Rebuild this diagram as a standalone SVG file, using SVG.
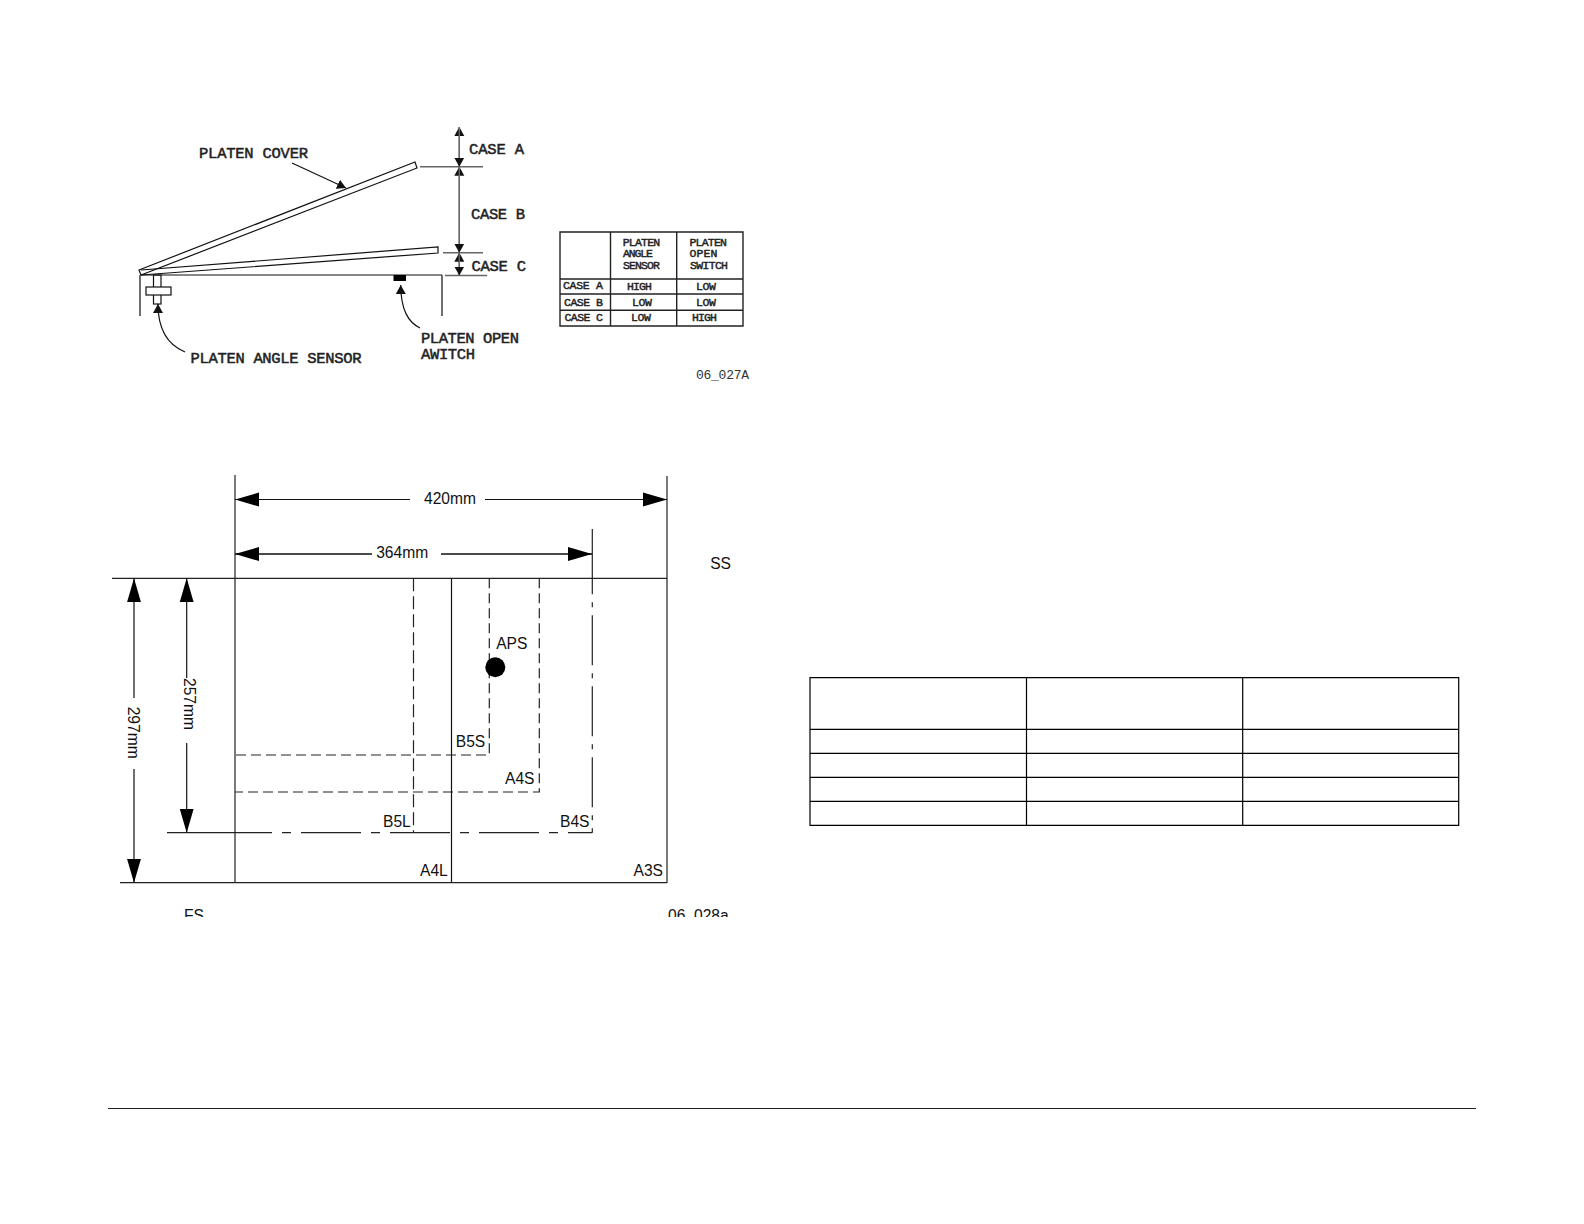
<svg xmlns="http://www.w3.org/2000/svg" width="1584" height="1224" viewBox="0 0 1584 1224">
<style>
.l{fill:none;stroke:#222;stroke-width:1.2}
.g{fill:none;stroke:#666;stroke-width:1.4}
.k{fill:none;stroke:#111;stroke-width:1.2}
.c{font-family:"Liberation Mono",monospace;font-size:15.5px;fill:#222;stroke:#222;stroke-width:.5}
.s{font-family:"Liberation Mono",monospace;font-size:11.5px;fill:#222;stroke:#222;stroke-width:.45}
.t{font-family:"Liberation Sans",Arial,sans-serif;font-size:15.6px;fill:#111}
.m{font-family:"Liberation Mono",monospace;font-size:13px;fill:#333}
</style>
<defs>
<marker id="a" markerUnits="userSpaceOnUse" markerWidth="10" markerHeight="11" refX="9" refY="5.500" orient="auto-start-reverse"><path d="M0 0.500L9 5.500L0 10.500Z" fill="#111"/></marker>
<marker id="b" markerUnits="userSpaceOnUse" markerWidth="24" markerHeight="16" refX="24" refY="8" orient="auto-start-reverse"><path d="M0 1L24 8L0 15Z" fill="#000"/></marker>
<clipPath id="cut"><rect x="0" y="0" width="1584" height="917"/></clipPath>
</defs>

<g id="platen-assembly">
<path class="k" d="M139 270L415 162L417 168L141 275Z"/>
<path class="k" d="M141 270L438 247L438 253L141 275"/>
<path class="k" d="M141 275H442M140 275V316M442 275V316"/>
<rect id="platen-angle-sensor" class="k" x="153.500" y="275" width="7.500" height="29"/>
<rect class="k" x="146" y="287" width="25" height="8" style="fill:#fff"/>
<rect id="platen-open-switch" x="393.500" y="275" width="12.500" height="6" fill="#000"/>
<path class="g" d="M420 166.700H483M443 252.700H483M445 275.500H487"/>
</g>

<g id="connectors-top">
<path class="g" d="M459.300 166.700V127" marker-end="url(#a)"/>
<path class="g" d="M459.300 127V166.700" marker-end="url(#a)"/>
<path class="g" d="M459.300 252.700V166.700" marker-end="url(#a)"/>
<path class="g" d="M459.300 166.700V252.700" marker-end="url(#a)"/>
<path class="g" d="M459.300 275.500V252.700" marker-end="url(#a)"/>
<path class="g" d="M459.300 252.700V275.500" marker-end="url(#a)"/>
<path class="k" d="M292 163L346 188" marker-end="url(#a)"/>
<path class="k" d="M185 352C168 345 158 330 158 304" marker-end="url(#a)"/>
<path class="k" d="M420 328C408 322 401 310 400.700 285" marker-end="url(#a)"/>
</g>

<g id="top-labels">
<text class="c" x="199" y="158" textLength="109">PLATEN COVER</text>
<text class="c" x="469" y="154" textLength="55">CASE A</text>
<text class="c" x="471" y="219" textLength="54">CASE B</text>
<text class="c" x="471.500" y="271" textLength="54.500">CASE C</text>
<text class="c" x="190.500" y="362.700" textLength="171">PLATEN ANGLE SENSOR</text>
<text class="c" x="421" y="343" textLength="98">PLATEN OPEN</text>
<text class="c" x="421" y="359" textLength="54">AWITCH</text>
<text class="m" x="696" y="379" textLength="53">06_027A</text>
</g>

<g id="case-table">
<path class="l" d="M560 232H743V326H560ZM610.500 232V326M676.700 232V326M560 279H743M560 294H743M560 310.300H743" style="stroke-width:1.400"/>
<text class="s" x="622.700" y="246" textLength="37.500">PLATEN</text>
<text class="s" x="623" y="257.300" textLength="30">ANGLE</text>
<text class="s" x="623" y="268.700" textLength="37">SENSOR</text>
<text class="s" x="689.500" y="246" textLength="37.500">PLATEN</text>
<text class="s" x="689.500" y="257.300" textLength="28">OPEN</text>
<text class="s" x="690" y="268.700" textLength="38">SWITCH</text>
<text class="s" x="563" y="289.300" textLength="40">CASE A</text>
<text class="s" x="627" y="290.300" textLength="25">HIGH</text>
<text class="s" x="696" y="290.300" textLength="20">LOW</text>
<text class="s" x="564" y="306" textLength="39">CASE B</text>
<text class="s" x="632" y="306" textLength="20">LOW</text>
<text class="s" x="696" y="305.500" textLength="20">LOW</text>
<text class="s" x="564.500" y="321" textLength="38.500">CASE C</text>
<text class="s" x="631" y="321" textLength="20">LOW</text>
<text class="s" x="692" y="321" textLength="25">HIGH</text>
</g>

<g id="paper-sizes">
<path class="l" d="M235 475V883M667 476V883M112 578.300H667M120 882.700H667"/>
<path class="k" d="M451.500 578.300V883"/>
<path class="l" d="M592.300 529V578.300"/>
<path class="l" d="M592.300 578.300V832.700" stroke-dasharray="50 8 5 8" stroke-dashoffset="34"/>
<path class="l" d="M167 832.700H235"/>
<path class="l" d="M235 832.700H592.300" stroke-dasharray="60 10 9 10" stroke-dashoffset="23"/>
<path class="l" d="M413.500 578.300V832.700" stroke-dasharray="13 5"/>
<path class="l" d="M489.300 578.300V755H235" stroke-dasharray="10 5"/>
<path class="l" d="M539.300 578.300V792H235" stroke-dasharray="10 5"/>
<circle id="aps" cx="495.300" cy="667.300" r="10" fill="#000"/>
</g>

<g id="connectors-bottom">
<path class="k" d="M410 499.500H235" marker-end="url(#b)"/>
<path class="k" d="M485 499.500H667" marker-end="url(#b)"/>
<path class="k" d="M372 554H235" marker-end="url(#b)" style="stroke-width:1.500"/>
<path class="k" d="M441 554H592" marker-end="url(#b)" style="stroke-width:1.500"/>
<path class="k" d="M134 698V578.300" marker-end="url(#b)"/>
<path class="k" d="M134 769V882.700" marker-end="url(#b)"/>
<path class="k" d="M186.700 678V578.300" marker-end="url(#b)"/>
<path class="k" d="M186.700 743V832.700" marker-end="url(#b)"/>
</g>

<g id="paper-labels">
<text class="t" x="424" y="504">420mm</text>
<text class="t" x="376.200" y="558.300">364mm</text>
<text class="t" x="710.200" y="569">SS</text>
<text class="t" x="496.200" y="649">APS</text>
<text class="t" x="455.800" y="746.700">B5S</text>
<text class="t" x="505" y="784.300">A4S</text>
<text class="t" x="383" y="826.700">B5L</text>
<text class="t" x="560" y="826.700">B4S</text>
<text class="t" x="420" y="876">A4L</text>
<text class="t" x="633.500" y="876">A3S</text>
<text class="t" transform="translate(127.500 706.700) rotate(90)">297mm</text>
<text class="t" transform="translate(183.500 678) rotate(90)">257mm</text>
<g clip-path="url(#cut)">
<text class="t" x="184" y="921">FS</text>
<text class="t" x="668" y="921">06_028a</text>
</g>
</g>

<g id="blank-table">
<path d="M810 677.700H1458.700V825.300H810ZM1026.500 677.700V825.300M1242.700 677.700V825.300M810 729.300H1458.700M810 753.300H1458.700M810 777.300H1458.700M810 801.300H1458.700" fill="none" stroke="#000" stroke-width="1.200"/>
</g>

<path id="footer-rule" d="M108 1108.500H1476" fill="none" stroke="#222" stroke-width="1.200"/>
</svg>
